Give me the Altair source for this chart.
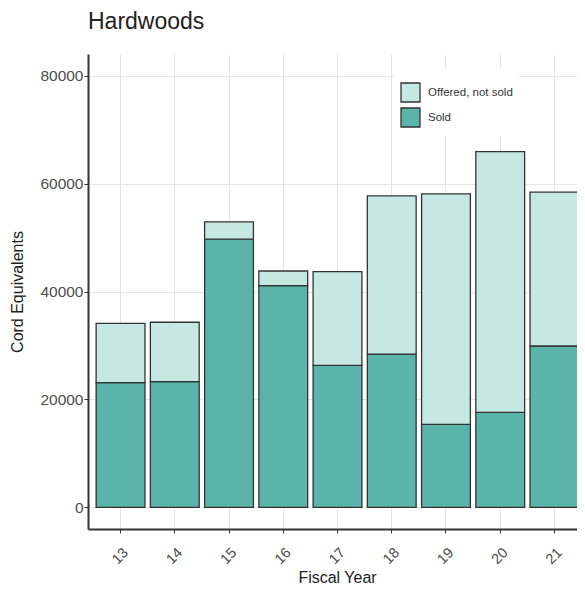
import altair as alt
import pandas as pd

years = ["13", "14", "15", "16", "17", "18", "19", "20", "21"]
sold = [23100, 23300, 49700, 41100, 26300, 28400, 15400, 17600, 29900]
total_offered = [34100, 34300, 52900, 43800, 43700, 57700, 58100, 65900, 58400]
categories = ["Offered, not sold", "Sold"]
colors = ["#C6E8E3", "#5BB4AA"]
y_ticks = [0, 20000, 40000, 60000, 80000]

rows = []
for yr, s, t in zip(years, sold, total_offered):
    rows.append({"year": yr, "status": "Sold", "value": s, "order": 0})
    rows.append({"year": yr, "status": "Offered, not sold", "value": t - s, "order": 1})
df = pd.DataFrame(rows)

font = "Liberation Sans"

chart = alt.Chart(df).mark_bar(stroke="#333333", strokeWidth=1.3).encode(
    x=alt.X(
        "year:N", sort=years, title="Fiscal Year",
        scale=alt.Scale(paddingInner=0.1, paddingOuter=0.15, range=[0, 499]),
        axis=alt.Axis(
            grid=True,
            labelAngle=-45, labelAlign="center", labelBaseline="middle",
            labelPadding=23, bandPosition=0.5, labelFontSize=14.5,
            titleX=249, titleY=53, titleBaseline="alphabetic",
        ),
    ),
    y=alt.Y(
        "value:Q", stack="zero", title="Cord Equivalents",
        scale=alt.Scale(domain=[-4000, 84000], nice=False, zero=False),
        axis=alt.Axis(
            values=y_ticks, format="d", labelFontSize=15.5, labelPadding=1,
            titleX=-66, titleY=237.5, titleAngle=-90,
            titleBaseline="alphabetic", titleAlign="center",
        ),
    ),
    color=alt.Color(
        "status:N",
        scale=alt.Scale(domain=categories, range=colors),
        legend=alt.Legend(
            title=" ", titleFontSize=6, titlePadding=2,
            orient="none", legendX=306, legendY=14,
            fillColor="white", padding=6,
            symbolType="square", symbolSize=361,
            symbolStrokeColor="#333333", symbolStrokeWidth=1.3,
            symbolOpacity=1, rowPadding=0, labelOffset=7,
            labelFontSize=11.5, labelColor="#333333", labelFont=font,
        ),
    ),
    order=alt.Order("order:Q"),
).properties(
    width=489,
    height=475,
    padding={"left": 80, "top": 46, "right": 0, "bottom": 55},
    autosize="none",
    title=alt.TitleParams(
        text="Hardwoods", anchor="start", frame="group", fontSize=23,
        fontWeight="normal", color="#222222", font=font,
        baseline="bottom", offset=23, dy=26,
    ),
).configure_view(
    stroke=None
).configure_axis(
    labelFont=font, titleFont=font, labelColor="#4D4D4D", titleColor="#222222",
    titleFontSize=16, titleFontWeight="normal",
    domainColor="#333333", domainWidth=2,
    tickColor="#333333", tickSize=4, tickWidth=1,
    gridColor="#E6E6E6", gridWidth=1,
)

chart.save("out.html", embed_options={"renderer": "svg", "actions": False})
